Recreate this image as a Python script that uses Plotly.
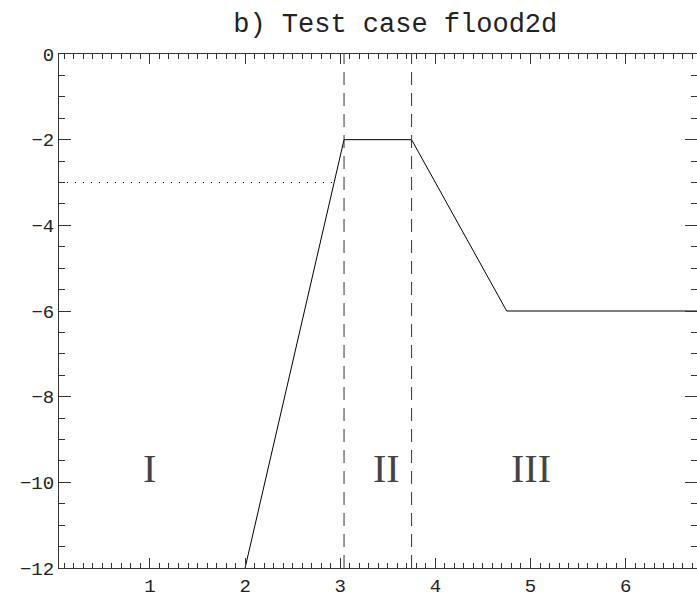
import plotly.graph_objects as go

# Data
profile_x = [2.0, 3.04, 3.75, 4.75, 6.75]
profile_y = [-12.0, -2.0, -2.0, -6.0, -6.0]
dotted_x = [0.044, 2.94]
dotted_y = [-3.0, -3.0]
vline_x = [3.04, 3.75]
region_labels = ["I", "II", "III"]
region_x = [1.0, 3.49, 5.0]
region_y = [-9.67, -9.67, -9.67]
x_ticks = [1, 2, 3, 4, 5, 6]
y_ticks = [0, -2, -4, -6, -8, -10, -12]

fig = go.Figure()

fig.add_trace(go.Scatter(x=profile_x, y=profile_y, mode="lines",
                         line=dict(color="black", width=1), showlegend=False))
fig.add_trace(go.Scatter(x=dotted_x, y=dotted_y, mode="lines",
                         line=dict(color="black", width=1, dash="1px,7px"), showlegend=False))
for vx in vline_x:
    fig.add_trace(go.Scatter(x=[vx, vx], y=[-12, 0], mode="lines",
                             line=dict(color="#333", width=1, dash="13px,8px"), showlegend=False))

for t, xx, yy in zip(region_labels, region_x, region_y):
    fig.add_annotation(x=xx, y=yy, text=t, showarrow=False,
                       font=dict(family="Liberation Serif", size=40, color="#444"),
                       xanchor="center", yanchor="middle")

fig.update_layout(
    width=697, height=601,
    margin=dict(l=59, r=0, t=54, b=33),
    paper_bgcolor="white", plot_bgcolor="white",
    title=dict(text="b) Test case flood2d", x=0.527, xref="paper", xanchor="center",
               y=1 - 23 / 601, yref="container", yanchor="middle",
               font=dict(family="Liberation Mono", size=27, color="#222")),
    font=dict(family="Liberation Mono", size=19, color="#222"),
)

fig.update_xaxes(range=[0.044, 6.75], tickvals=x_ticks, ticktext=[str(v) for v in x_ticks],
                 ticks="inside", ticklen=10, tickcolor="#333", tickwidth=1,
                 showline=True, linecolor="#333", linewidth=1, mirror="ticks",
                 showgrid=False, zeroline=False,
                 minor=dict(dtick=0.1, tick0=0, ticks="inside", ticklen=5, tickcolor="#333", showgrid=False))
fig.update_yaxes(range=[-12, 0], tickvals=y_ticks, ticktext=["0" if v == 0 else "\u2212" + str(-v) for v in y_ticks],
                 ticks="inside", ticklen=12, tickcolor="#333", tickwidth=1,
                 showline=True, linecolor="#333", linewidth=1, mirror="ticks",
                 showgrid=False, zeroline=False,
                 minor=dict(dtick=0.5, tick0=0, ticks="inside", ticklen=6, tickcolor="#333", showgrid=False))

fig.write_html("out.html")
